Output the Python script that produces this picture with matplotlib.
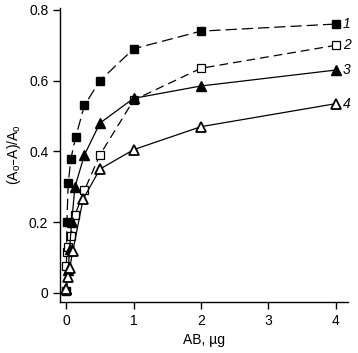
import matplotlib
matplotlib.use("Agg")
import matplotlib.pyplot as plt

plt.rcParams['font.family'] = ['Liberation Sans', 'DejaVu Sans']

x1 = [0.0, 0.01, 0.03, 0.07, 0.14, 0.27, 0.5, 1.0, 2.0, 4.0]
y1 = [0.005, 0.20, 0.31, 0.38, 0.44, 0.53, 0.60, 0.69, 0.74, 0.76]
x2 = [0.0, 0.01, 0.02, 0.07, 0.13, 0.27, 0.5, 1.0, 2.0, 4.0]
y2 = [0.075, 0.115, 0.13, 0.16, 0.22, 0.29, 0.39, 0.545, 0.635, 0.70]
x3 = [0.0, 0.03, 0.05, 0.08, 0.13, 0.27, 0.5, 1.0, 2.0, 4.0]
y3 = [0.01, 0.065, 0.125, 0.20, 0.30, 0.39, 0.48, 0.55, 0.585, 0.63]
x4 = [0.0, 0.02, 0.05, 0.1, 0.25, 0.5, 1.0, 2.0, 4.0]
y4 = [0.01, 0.045, 0.07, 0.12, 0.265, 0.35, 0.405, 0.47, 0.535]
labels = ['1', '2', '3', '4']
xticks = [0, 1, 2, 3, 4]
yticks = [0, 0.2, 0.4, 0.6, 0.8]
ytick_labels = ['0', '0.2', '0.4', '0.6', '0.8']

fig = plt.figure(figsize=(3.58, 3.53), dpi=100)
ax = fig.add_axes([0.168, 0.145, 0.804, 0.832])

ms = 6.3
lw = 0.9
ax.plot(x1, y1, color='black', lw=lw, dashes=(9, 4), marker='s', ms=ms,
        mfc='black', mec='black')
ax.plot(x2, y2, color='black', lw=lw, dashes=(7, 4), marker='s', ms=ms,
        mfc='white', mec='black', mew=0.9)
ax.plot(x3, y3, color='black', lw=lw, marker='^', ms=ms + 0.5,
        mfc='black', mec='black')
ax.plot(x4, y4, color='black', lw=lw, marker='^', ms=ms + 0.5,
        mfc='white', mec='black', mew=1.3)

for xs, ys, lab in zip([x1, x2, x3, x4], [y1, y2, y3, y4], labels):
    ax.text(xs[-1] + 0.1, ys[-1], lab, fontsize=10, style='italic',
            va='center', ha='left')

ax.set_xlim(-0.09, 4.18)
ax.set_ylim(-0.025, 0.805)
ax.set_xticks(xticks)
ax.set_yticks(yticks)
ax.set_yticklabels(ytick_labels)
ax.spines['top'].set_visible(False)
ax.spines['right'].set_visible(False)
ax.tick_params(direction='out', length=5, width=1, labelsize=10)
ax.set_xlabel('AB, µg', fontsize=10)
ax.set_ylabel('(A$_\\mathregular{o}$–A)/A$_\\mathregular{o}$', fontsize=10)
for s in ax.spines.values():
    s.set_linewidth(1)
for l in ax.lines:
    l.set_clip_on(False)

fig.savefig('out.png', dpi=100)
